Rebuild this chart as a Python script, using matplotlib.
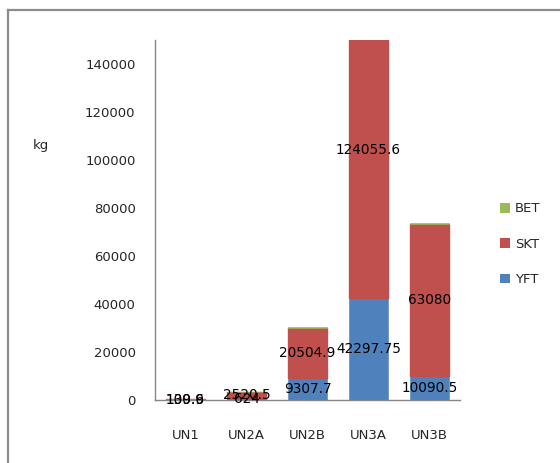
import matplotlib
matplotlib.use("Agg")
import matplotlib.pyplot as plt
from matplotlib.patches import Patch
from matplotlib.lines import Line2D
import numpy as np

categories = ["UN1", "UN2A", "UN2B", "UN3A", "UN3B"]
yft = [100.9, 624, 9307.7, 42297.75, 10090.5]
skt = [139.6, 2520.5, 20504.9, 124055.6, 63080]
bet = [20, 250, 450, 600, 600]
yft_labels = ["100.9", "624", "9307.7", "42297.75", "10090.5"]
skt_labels = ["139.6", "2520.5", "20504.9", "124055.6", "63080"]
yticks = [0, 20000, 40000, 60000, 80000, 100000, 120000, 140000]

c_yft = "#4F81BD"
c_skt = "#C0504D"
c_bet = "#9BBB59"
axis_gray = "#868686"
text_col = "#262626"

plt.rcParams["font.family"] = ["DejaVu Sans"]
fs = 9.5
fs_val = 9.8

fig = plt.figure(figsize=(5.6, 4.63), dpi=100)
ax = fig.add_axes([155 / 560, 1 - 400 / 463, 305 / 560, 360 / 463])

x = np.arange(len(categories))
w = 0.65
yft_a = np.array(yft)
skt_a = np.array(skt)
ax.bar(x, yft_a, w, color=c_yft, edgecolor=c_yft, linewidth=0.4)
ax.bar(x, skt_a, w, bottom=yft_a, color=c_skt, edgecolor=c_skt, linewidth=1.0)
ax.bar(x, bet, w, bottom=yft_a + skt_a, color=c_bet, edgecolor=c_bet, linewidth=0.4)

# value labels at the middle of each full segment
for i in range(len(categories)):
    ax.text(x[i], yft_a[i] / 2, yft_labels[i], ha="center", va="center",
            fontsize=fs_val, color="black", clip_on=False)
    ax.text(x[i], yft_a[i] + skt_a[i] / 2, skt_labels[i], ha="center", va="center",
            fontsize=fs_val, color="black", clip_on=False)

ax.set_xlim(-0.5, len(categories) - 0.5)
ax.set_ylim(0, 150000)
ax.set_yticks(yticks)
ax.set_yticklabels([str(v) for v in yticks])
ax.set_xticks(x)
ax.set_xticklabels(categories)
ax.tick_params(axis="y", length=0, pad=14, labelsize=fs, colors=text_col)
ax.tick_params(axis="x", length=0, pad=21, labelsize=fs, colors=text_col)

for side in ("top", "right"):
    ax.spines[side].set_visible(False)
for side in ("left", "bottom"):
    ax.spines[side].set_color(axis_gray)
    ax.spines[side].set_linewidth(1.0)

fig.text(33 / 560, 1 - 145 / 463, "kg", fontsize=fs, color=text_col,
         ha="left", va="center")

handles = [Patch(facecolor=c_bet), Patch(facecolor=c_skt), Patch(facecolor=c_yft)]
fig.legend(handles, ["BET", "SKT", "YFT"], loc="upper left",
           bbox_to_anchor=(495 / 560, 1 - 197 / 463), frameon=False,
           fontsize=fs, labelspacing=1.7, handlelength=0.75, handleheight=0.75,
           handletextpad=0.35, borderaxespad=0, labelcolor=text_col)

# outer chart frame
fig.add_artist(Line2D([8 / 560, 8 / 560], [0, 1 - 10 / 463], transform=fig.transFigure,
                      color="#8C8C8C", linewidth=1.6))
fig.add_artist(Line2D([8 / 560, 1], [1 - 10 / 463, 1 - 10 / 463], transform=fig.transFigure,
                      color="#8C8C8C", linewidth=1.6))

fig.savefig("out.png", dpi=100)
